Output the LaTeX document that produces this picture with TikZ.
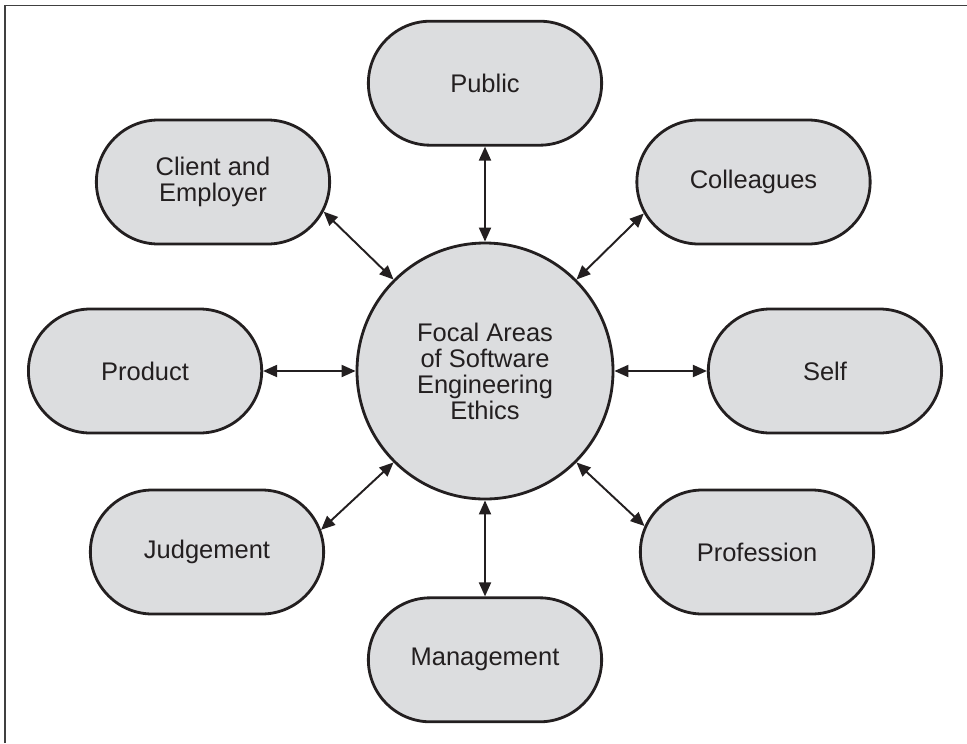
\documentclass[tikz,border=0pt]{standalone}
\usepackage{fontspec}
\setsansfont{Liberation Sans}
\usepackage{xcolor}
\usepackage{tikz}
\usetikzlibrary{positioning, shapes.misc, arrows.meta, calc}

\definecolor{areagray}{HTML}{DCDDDF}
\definecolor{inkblack}{HTML}{231F20}

\begin{document}
\begin{tikzpicture}[
			% --- Styles ---
			areablock/.style={
				rounded rectangle, draw=inkblack, line width=1.6pt, fill=areagray,
				minimum width=4.9cm, minimum height=2.48cm, align=center,
				font=\sffamily\fontsize{14.5}{14.8}\selectfont, text=inkblack
			},
			focalblock/.style={
				circle, draw=inkblack, line width=1.6pt, fill=areagray,
				minimum size=5.12cm, align=center,
				font=\sffamily\fontsize{14.5}{14.8}\selectfont, text=inkblack
			},
			line/.style={
				draw=inkblack, line width=1.1pt,
				{Triangle[length=2.8mm, width=2.4mm]}-{Triangle[length=2.8mm, width=2.4mm]}
			},
			frame/.style={
				draw=black!75, line width=1.1pt
			}
			]
			
			\useasboundingbox (0,0) rectangle (19.34,-14.86);
			
			% --- Frame (top and left edges only) ---
			\draw [frame] (0.1,-14.86) -- (0.1,-0.11) -- (19.34,-0.11);
			
			% --- 1. Centre ---
			\node [focalblock] (focal) at (9.7,-7.42) {Focal Areas\\of Software\\Engineering\\Ethics};
			
			% --- 2. Straight neighbours ---
			\node [areablock, above=1.9cm of focal] (public) {Public};
			\node [areablock, below=1.92cm of focal] (management) {Management};
			\node [areablock, left=1.85cm of focal] (product) {Product};
			\node [areablock, right=1.85cm of focal] (self) {Self};
			
			% --- 3. Diagonal neighbours ---
			\node [areablock] (client) at ($(focal) + (-5.44, 3.78)$) {Client and\\Employer};
			\node [areablock] (colleagues) at ($(focal) + (5.37, 3.78)$) {Colleagues};
			\node [areablock] (judgement) at ($(focal) + (-5.56, -3.62)$) {Judgement};
			\node [areablock] (profession) at ($(focal) + (5.44, -3.62)$) {Profession};
			
			% --- Connections ---
			\draw [line] (public.south) -- (focal.north);
			\draw [line] (focal.south) -- (management.north);
			\draw [line] (product.east) -- (focal.west);
			\draw [line] (focal.east) -- (self.west);
			
			% diagonals leave the circle at 45 degrees
			\draw [line] (client.345) -- (focal.135);
			\draw [line] (focal.45) -- (colleagues.196);
			\draw [line] (judgement.11) -- (focal.225);
			\draw [line] (focal.315) -- (profession.167);
			
		\end{tikzpicture}
\end{document}
